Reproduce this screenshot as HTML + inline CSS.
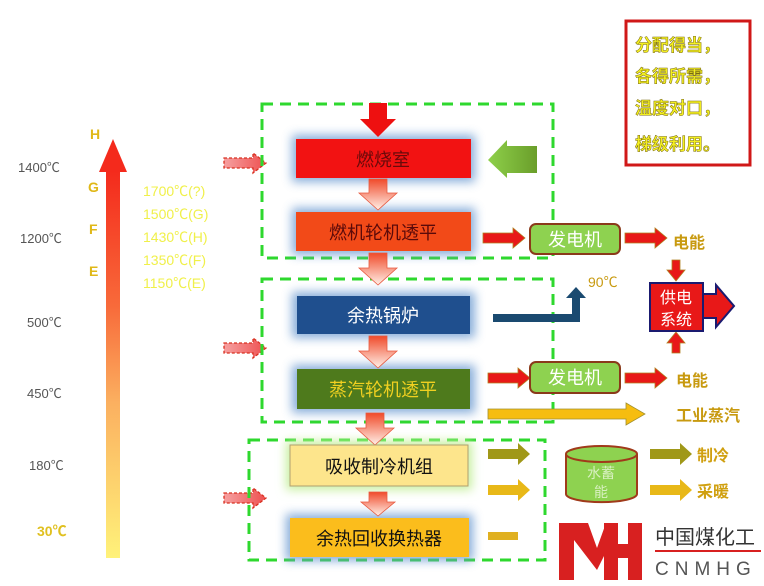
<!DOCTYPE html>
<html><head><meta charset="utf-8"><style>
html,body{margin:0;padding:0;background:#fff;width:764px;height:586px;overflow:hidden}
svg{display:block}
text{font-family:"Liberation Sans","Noto Sans CJK SC",sans-serif}
</style></head><body>
<svg width="764" height="586" viewBox="0 0 764 586" xmlns="http://www.w3.org/2000/svg">
<defs>
<linearGradient id="tg" x1="0" y1="0" x2="0" y2="1">
<stop offset="0" stop-color="#f42a1c"/><stop offset="0.35" stop-color="#f86a3a"/><stop offset="0.6" stop-color="#fbb060"/><stop offset="1" stop-color="#fff27a"/>
</linearGradient>
<linearGradient id="pa" x1="0" y1="0" x2="0" y2="1">
<stop offset="0" stop-color="#f04a2a"/><stop offset="1" stop-color="#fff0e8"/>
</linearGradient>
<linearGradient id="da" x1="0" y1="0" x2="1" y2="0">
<stop offset="0" stop-color="#f6a0a0"/><stop offset="1" stop-color="#ee5050"/>
</linearGradient>
<linearGradient id="ga" x1="0" y1="0" x2="1" y2="0">
<stop offset="0" stop-color="#8ed04a"/><stop offset="1" stop-color="#6a9e2a"/>
</linearGradient>
<filter id="glow" x="-20%" y="-40%" width="140%" height="180%"><feGaussianBlur stdDeviation="5"/></filter>
</defs>

<!-- left scale -->
<g font-size="13" fill="#555">
<text x="18" y="172">1400℃</text>
<text x="20" y="243">1200℃</text>
<text x="27" y="327">500℃</text>
<text x="27" y="398">450℃</text>
<text x="29" y="470">180℃</text>
</g>
<text x="37" y="536" font-size="14" font-weight="bold" fill="#e0c020">30℃</text>
<rect x="106" y="170" width="14" height="388" fill="url(#tg)"/>
<polygon points="113,139 99,172 127,172" fill="#f42a1c"/>
<g font-size="14" font-weight="bold" fill="#e0b818">
<text x="90" y="139">H</text><text x="88" y="192">G</text><text x="89" y="234">F</text><text x="89" y="276">E</text>
</g>
<g font-size="14" fill="#f0f04a">
<text x="143" y="196">1700℃(?)</text><text x="143" y="219">1500℃(G)</text><text x="143" y="242">1430℃(H)</text><text x="143" y="265">1350℃(F)</text><text x="143" y="288">1150℃(E)</text>
</g>
<!-- dashed arrows -->
<g fill="url(#da)" stroke="#d83020" stroke-width="1.3" stroke-dasharray="3,2">
<polygon points="224,158 253,158 253,153 266,163 253,173 253,168 224,168"/>
<polygon points="224,343 253,343 253,338 266,348 253,358 253,353 224,353"/>
<polygon points="224,493 253,493 253,488 266,498 253,508 253,503 224,503"/>
</g>

<!-- green dashed boxes -->
<g fill="none" stroke="#2ed82e" stroke-width="3" stroke-dasharray="11,7">
<rect x="262" y="104" width="291" height="154"/>
<rect x="262" y="279" width="291" height="143"/>
<rect x="249" y="440" width="296" height="120"/>
</g>

<!-- glows -->
<g filter="url(#glow)" fill="#6a9ad0" opacity="0.8">
<rect x="292" y="135" width="183" height="47"/>
<rect x="292" y="208" width="183" height="47"/>
<rect x="292" y="292" width="183" height="46"/>
<rect x="292" y="365" width="183" height="48"/>
<rect x="286" y="514" width="187" height="47"/>
</g>
<rect x="286" y="441" width="186" height="49" fill="#c8f0a0" filter="url(#glow)"/>

<!-- top red arrow -->
<polygon points="369,103 387,103 387,119 396,119 378,137 360,119 369,119" fill="#ee1010"/>
<!-- down arrows -->
<g fill="url(#pa)" stroke="#e85a40" stroke-width="0.8">
<polygon points="369,179 387,179 387,193 397,193 378,210 359,193 369,193"/>
<polygon points="369,253 387,253 387,268 397,268 378,285 359,268 369,268"/>
<polygon points="369,336 387,336 387,351 397,351 378,368 359,351 369,351"/>
<polygon points="366,413 384,413 384,428 394,428 375,445 356,428 366,428"/>
<polygon points="369,492 387,492 387,502 395,502 378,516 361,502 369,502"/>
</g>

<!-- main boxes -->
<rect x="296" y="139" width="175" height="39" fill="#f21212"/>
<text x="383" y="166" font-size="18" text-anchor="middle" fill="#6a0a0a">燃烧室</text>
<rect x="296" y="212" width="175" height="39" fill="#f24a18"/>
<text x="383" y="239" font-size="18" text-anchor="middle" fill="#5a0a0a">燃机轮机透平</text>
<rect x="297" y="296" width="173" height="38" fill="#1f4f8e"/>
<text x="383" y="322" font-size="18" text-anchor="middle" fill="#fff">余热锅炉</text>
<rect x="297" y="369" width="173" height="40" fill="#4e7a1c"/>
<text x="383" y="396" font-size="18" text-anchor="middle" fill="#f0d020">蒸汽轮机透平</text>
<rect x="290" y="445" width="178" height="41" fill="#fde58c" stroke="#b0a070"/>
<text x="379" y="473" font-size="18" text-anchor="middle" fill="#111">吸收制冷机组</text>
<rect x="290" y="518" width="179" height="39" fill="#fbbd1c"/>
<text x="379" y="545" font-size="18" text-anchor="middle" fill="#111">余热回收换热器</text>

<!-- green left arrow -->
<polygon points="537,146 507,146 507,140 488,160 507,178 507,173 537,173" fill="url(#ga)"/>

<!-- red arrows to generators -->
<g fill="#e81818" stroke="#b08020" stroke-width="0.8">
<polygon points="483,233 513,233 513,228 525,238 513,248 513,243 483,243"/>
<polygon points="488,373 518,373 518,368 530,378 518,388 518,383 488,383"/>
<polygon points="625,233 655,233 655,228 667,238 655,248 655,243 625,243"/>
<polygon points="625,373 655,373 655,368 667,378 655,388 655,383 625,383"/>
<polygon points="672,260 680,260 680,270 685,270 676,281 667,270 672,270"/>
<polygon points="672,353 680,353 680,343 685,343 676,332 667,343 672,343"/>
</g>
<g fill="#8ed250" stroke="#8a3a1a" stroke-width="2">
<rect x="530" y="224" width="90" height="30" rx="6"/>
<rect x="530" y="362" width="90" height="31" rx="6"/>
</g>
<g font-size="18" fill="#fff" text-anchor="middle">
<text x="575" y="246">发电机</text><text x="575" y="384">发电机</text>
</g>
<g font-size="16" font-weight="bold" fill="#c89a10">
<text x="673" y="248">电能</text><text x="676" y="386">电能</text>
<text x="676" y="421">工业蒸汽</text>
</g>
<!-- power system -->
<polygon points="699,294 716,294 716,285 734,306 716,327 716,318 699,318" fill="#e81818" stroke="#1a1a70" stroke-width="2"/>
<rect x="650" y="283" width="53" height="48" fill="#e81818" stroke="#1a1a70" stroke-width="2"/>
<text x="676" y="303" font-size="16" fill="#fff" text-anchor="middle">供电</text>
<text x="676" y="325" font-size="16" fill="#fff" text-anchor="middle">系统</text>

<!-- blue bent arrow -->
<path d="M493,318 L576,318 L576,296" fill="none" stroke="#1a4a70" stroke-width="8"/>
<polygon points="566,298 576,287 586,298" fill="#1a4a70"/>
<text x="588" y="287" font-size="14" fill="#c89a10">90℃</text>

<!-- yellow long arrow -->
<polygon points="488,409 626,409 626,403 645,414 626,425 626,419 488,419" fill="#f6bd10" stroke="#a09030" stroke-width="0.8"/>
<!-- small arrows -->
<polygon points="488,449 518,449 518,443 530,454 518,465 518,459 488,459" fill="#a09818"/>
<polygon points="488,485 518,485 518,479 530,490 518,501 518,495 488,495" fill="#e8b818"/>
<polygon points="488,532 518,532 518,540 488,540" fill="#e0b020"/>
<polygon points="650,449 680,449 680,443 692,454 680,465 680,459 650,459" fill="#a09818"/>
<polygon points="650,485 680,485 680,479 692,490 680,501 680,495 650,495" fill="#e8b818"/>
<g font-size="16" font-weight="bold" fill="#d0a010">
<text x="697" y="461">制冷</text><text x="697" y="497">采暖</text>
</g>
<!-- cylinder -->
<path d="M566,454 L566,494 A35,8 0 0 0 637,494 L637,454" fill="#8ed250" stroke="#a03a1a" stroke-width="2"/>
<ellipse cx="601.5" cy="454" rx="35.5" ry="8" fill="#8ed250" stroke="#a03a1a" stroke-width="2"/>
<text x="601" y="478" font-size="14" fill="#d8f0c0" text-anchor="middle">水蓄</text>
<text x="601" y="497" font-size="14" fill="#d8f0c0" text-anchor="middle">能</text>

<!-- top right box -->
<rect x="626" y="21" width="124" height="144" fill="#fff" stroke="#d01818" stroke-width="3"/>
<g font-size="17" font-weight="bold" fill="#f4f020" stroke="#7a6a10" stroke-width="0.5">
<text x="635" y="51">分配得当，</text><text x="635" y="82">各得所需，</text>
<text x="635" y="114">温度对口，</text><text x="635" y="150">梯级利用。</text>
</g>

<!-- logo -->
<g fill="#d82020">
<rect x="559" y="523" width="15" height="57"/>
<polygon points="574,523 588,523 597,548 606,523 612,523 612,540 597,570 574,540"/>
<rect x="604" y="523" width="14" height="57"/>
<rect x="618" y="544" width="12" height="14"/>
<rect x="628" y="523" width="14" height="57"/>
</g>
<text x="655" y="544" font-size="20" fill="#333">中国煤化工</text>
<rect x="655" y="550" width="106" height="2" fill="#d82020"/>
<text x="655" y="575" font-size="19" fill="#555" letter-spacing="6">CNMHG</text>
</svg>
</body></html>
